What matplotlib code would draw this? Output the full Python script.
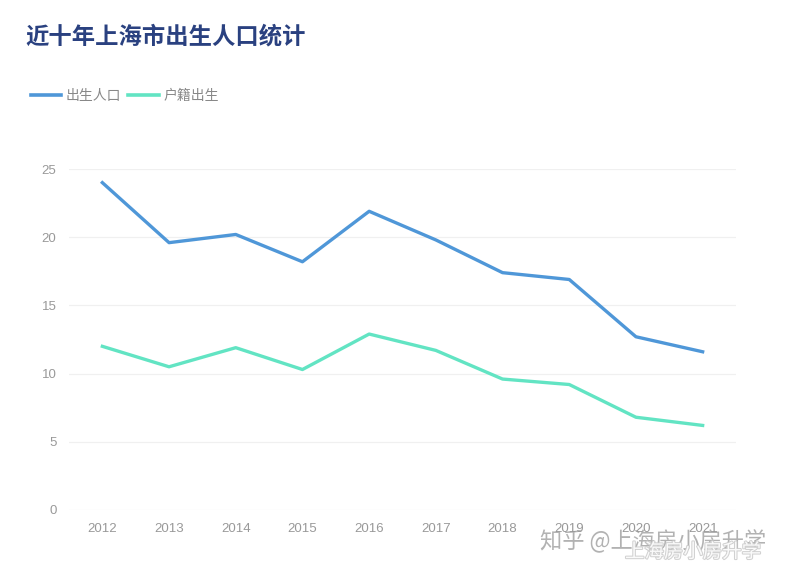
import matplotlib.pyplot as plt
import matplotlib.patheffects as pe
from matplotlib.lines import Line2D

plt.rcParams['font.family'] = ['Noto Sans CJK SC', 'DejaVu Sans']

# data (万人)
years = ['2012', '2013', '2014', '2015', '2016', '2017', '2018', '2019', '2020', '2021']
births = [24.0, 19.6, 20.2, 18.2, 21.9, 19.8, 17.4, 16.9, 12.7, 11.6]
hukou_births = [12.0, 10.5, 11.9, 10.3, 12.9, 11.7, 9.6, 9.2, 6.8, 6.2]
yticks = [0, 5, 10, 15, 20, 25]

blue = '#4f97d8'
teal = '#62e4c3'
grey = '#999999'

fig = plt.figure(figsize=(7.98, 5.72), dpi=100)
ax = fig.add_axes([69 / 798, 1 - 510 / 572, (736 - 69) / 798, (510 - 169) / 572])

x = list(range(len(years)))
ax.plot(x, births, color=blue, lw=2.4, solid_joinstyle='round')
ax.plot(x, hukou_births, color=teal, lw=2.4, solid_joinstyle='round')

ax.set_xlim(-0.5, len(years) - 0.5)
ax.set_ylim(0, 25)
ax.set_yticks(yticks)
ax.set_xticks(x)
ax.set_xticklabels(years)
ax.grid(axis='y', color='#f0f0f0', lw=0.9)
ax.set_axisbelow(True)
for s in ax.spines.values():
    s.set_visible(False)
ax.tick_params(length=0, colors=grey, labelsize=9.5)
ax.tick_params(axis='y', pad=9)
ax.tick_params(axis='x', pad=9)
for lab in ax.get_xticklabels() + ax.get_yticklabels():
    lab.set_family(['Liberation Sans', 'DejaVu Sans'])

# title
fig.text(25 / 798, 1 - 36 / 572, '近十年上海市出生人口统计', fontsize=16.8, fontweight='bold',
         color='#2a4180', va='center', ha='left')

# legend
handles = [Line2D([], [], color=blue, lw=2.6), Line2D([], [], color=teal, lw=2.6)]
fig.legend(handles, ['出生人口', '户籍出生'], loc='center left',
           bbox_to_anchor=(18 / 798, 1 - 96 / 572), ncol=2, frameon=False,
           handlelength=2.2, handletextpad=0.35, columnspacing=0.5,
           labelcolor='#888888', prop={'size': 10})

# watermark
fig.text(540 / 798, 1 - 541 / 572, '知乎 @上海房小房升学', fontsize=16,
         color='#999999', alpha=0.75, va='center', ha='left')
fig.text(625 / 798, 1 - 552 / 572, '上海房小房升学', fontsize=14,
         color='white', alpha=0.9, va='center', ha='left',
         path_effects=[pe.withStroke(linewidth=1.5, foreground='#cccccc')])

fig.savefig('out.png', dpi=100)
